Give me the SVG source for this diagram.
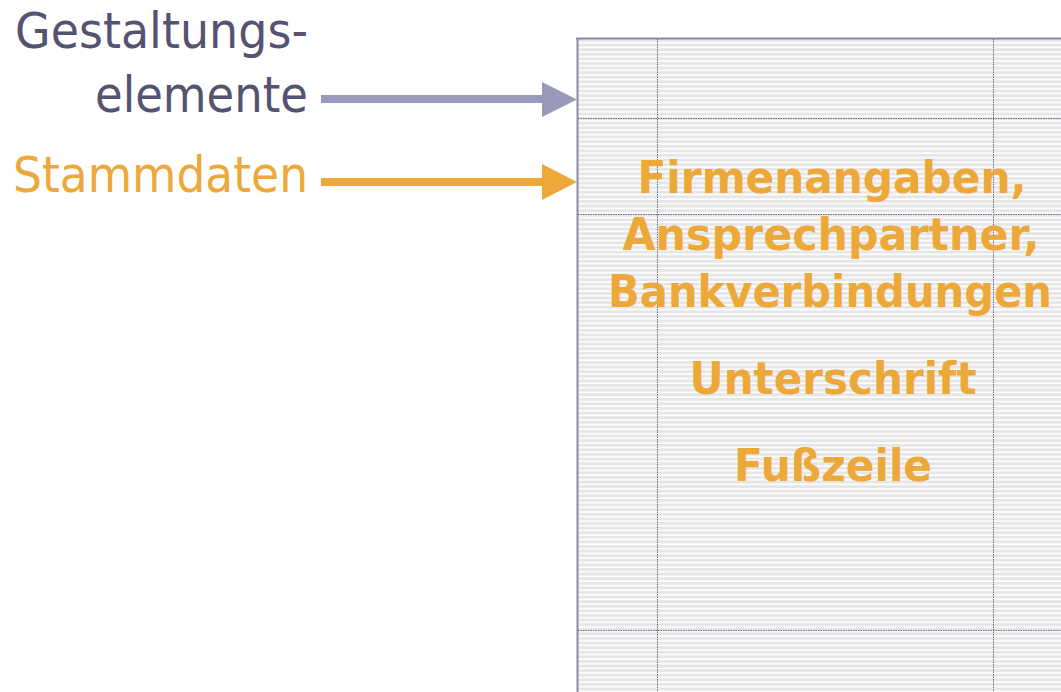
<svg xmlns="http://www.w3.org/2000/svg" width="1061" height="692" viewBox="0 0 1061 692">
  <style>
    .lbl { font-family: "DejaVu Sans", Verdana, sans-serif; font-size: 49px; text-anchor: end; }
    .dark { fill: #545372; }
    .orange { fill: #EDA83A; }
    .big { font-family: "DejaVu Sans", Verdana, sans-serif; font-weight: bold; font-size: 45px; text-anchor: middle; fill: #EDA83A; }
    .guide { stroke: #6a6a8e; stroke-width: 1; stroke-dasharray: 1.5 1; fill: none; }
  </style>
  <defs>
    <pattern id="stripes" patternUnits="userSpaceOnUse" x="0" y="39" width="10" height="4.6">
      <rect x="0" y="0" width="10" height="4.6" fill="#ffffff"/>
      <rect x="0" y="0" width="10" height="3" fill="#e6e6e6"/>
    </pattern>
  </defs>
  <rect width="1061" height="692" fill="#ffffff"/>

  <g id="page">
    <rect x="577" y="38" width="500" height="670" fill="url(#stripes)"/>
    <line x1="576" y1="38.5" x2="1061" y2="38.5" stroke="#8a8aa6" stroke-width="2"/>
    <line x1="577.5" y1="38" x2="577.5" y2="692" stroke="#8a8aa6" stroke-width="2"/>
    <line class="guide" x1="657.5" y1="39" x2="657.5" y2="692"/>
    <line class="guide" x1="993.5" y1="39" x2="993.5" y2="692"/>
    <line class="guide" x1="578" y1="118.5" x2="1061" y2="118.5"/>
    <line class="guide" x1="578" y1="214.5" x2="1061" y2="214.5"/>
    <line class="guide" x1="578" y1="630.5" x2="1061" y2="630.5"/>
  </g>

  <g id="page-text">
    <text class="big" x="832" y="193" textLength="389" lengthAdjust="spacingAndGlyphs">Firmenangaben,</text>
    <text class="big" x="831" y="250" textLength="417" lengthAdjust="spacingAndGlyphs">Ansprechpartner,</text>
    <text class="big" x="830" y="307" font-size="43" textLength="444" lengthAdjust="spacingAndGlyphs">Bankverbindungen</text>
    <text class="big" x="833" y="394" textLength="287" lengthAdjust="spacingAndGlyphs">Unterschrift</text>
    <text class="big" x="833" y="481" textLength="198" lengthAdjust="spacingAndGlyphs">Fußzeile</text>
  </g>

  <g id="label-gestaltung">
    <text class="lbl dark" x="308" y="48" textLength="293" lengthAdjust="spacingAndGlyphs">Gestaltungs-</text>
    <text class="lbl dark" x="308" y="112" textLength="213" lengthAdjust="spacingAndGlyphs">elemente</text>
  </g>
  <g id="label-stammdaten">
    <text class="lbl orange" x="308" y="192" textLength="295" lengthAdjust="spacingAndGlyphs">Stammdaten</text>
  </g>

  <g id="connectors">
    <line x1="321" y1="99" x2="545" y2="99" stroke="#9999BB" stroke-width="8"/>
    <polygon points="542,82 577,99.5 542,117" fill="#9999BB"/>
    <line x1="321" y1="182" x2="545" y2="182" stroke="#EDA83A" stroke-width="8"/>
    <polygon points="542,164 577,182 542,200" fill="#EDA83A"/>
  </g>
</svg>
